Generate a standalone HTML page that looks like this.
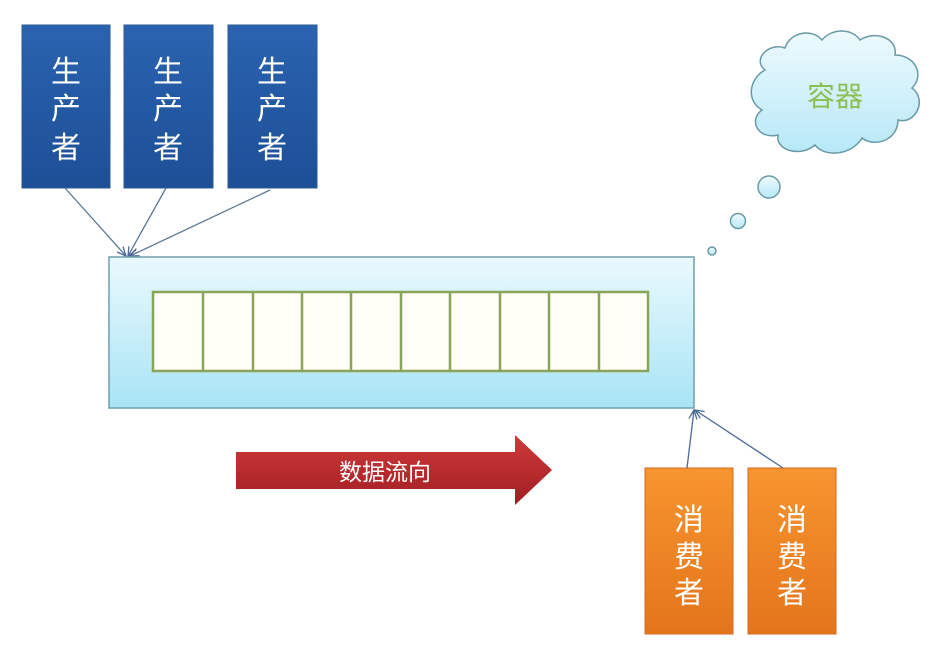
<!DOCTYPE html>
<html><head><meta charset="utf-8"><style>
body{margin:0;background:#fff;}
svg{display:block;}
text{font-family:"Liberation Sans","Noto Sans CJK SC",sans-serif;}
</style></head><body>
<svg width="942" height="664" viewBox="0 0 942 664" xmlns="http://www.w3.org/2000/svg">
<defs>
<linearGradient id="bl" x1="0" y1="0" x2="0" y2="1"><stop offset="0" stop-color="#2a63b0"/><stop offset="1" stop-color="#1d4f96"/></linearGradient>
<linearGradient id="or" x1="0" y1="0" x2="0" y2="1"><stop offset="0" stop-color="#f7952f"/><stop offset="1" stop-color="#e4741c"/></linearGradient>
<linearGradient id="cy" x1="0" y1="0" x2="0" y2="1"><stop offset="0" stop-color="#eaf9fd"/><stop offset="1" stop-color="#a8e4f5"/></linearGradient>
<linearGradient id="rd" x1="0" y1="0" x2="0" y2="1"><stop offset="0" stop-color="#cf3a3a"/><stop offset="1" stop-color="#a11e22"/></linearGradient>
<linearGradient id="cl" x1="0" y1="0" x2="0" y2="1"><stop offset="0" stop-color="#eefafe"/><stop offset="1" stop-color="#b7e8f7"/></linearGradient>
<marker id="ah" markerWidth="10" markerHeight="10" refX="9" refY="5" orient="auto" markerUnits="userSpaceOnUse"><path d="M0,1 L9,5 L0,9" fill="none" stroke="#4a6a9a" stroke-width="1.3"/></marker>
</defs>
<g fill="url(#bl)" stroke="#2b5a92" stroke-width="1">
<rect x="22" y="25" width="88" height="163"/>
<rect x="124" y="25" width="89" height="163"/>
<rect x="228" y="25" width="89" height="163"/>
</g>
<g fill="#fff" font-size="30" text-anchor="middle">
<text x="66" y="82">生</text><text x="66" y="119">产</text><text x="66" y="158">者</text>
<text x="168" y="82">生</text><text x="168" y="119">产</text><text x="168" y="158">者</text>
<text x="272" y="82">生</text><text x="272" y="119">产</text><text x="272" y="158">者</text>
</g>
<g stroke="#5a7896" stroke-width="1.3" fill="none" marker-end="url(#ah)">
<line x1="65" y1="188" x2="126" y2="256"/>
<line x1="166" y1="188" x2="128" y2="256"/>
<line x1="270" y1="190" x2="130" y2="256"/>
</g>
<rect x="109" y="257" width="585" height="151" fill="url(#cy)" stroke="#6f9fae" stroke-width="1.5"/>
<rect x="153" y="292" width="495" height="79" fill="#fffff8" stroke="#8aa55a" stroke-width="2.5"/>
<g stroke="#8aa55a" stroke-width="2.5">
<line x1="203" y1="292" x2="203" y2="371"/><line x1="253" y1="292" x2="253" y2="371"/>
<line x1="302" y1="292" x2="302" y2="371"/><line x1="351" y1="292" x2="351" y2="371"/>
<line x1="401" y1="292" x2="401" y2="371"/><line x1="450" y1="292" x2="450" y2="371"/>
<line x1="500" y1="292" x2="500" y2="371"/><line x1="549" y1="292" x2="549" y2="371"/>
<line x1="599" y1="292" x2="599" y2="371"/>
</g>
<polygon points="236,452 515,452 515,435 552,470 515,505 515,489 236,489" fill="url(#rd)"/>
<text x="385" y="480" fill="#fff" font-size="23" text-anchor="middle">数据流向</text>
<g fill="url(#or)" stroke="#d46a1c" stroke-width="1">
<rect x="645" y="468" width="88" height="166"/>
<rect x="748" y="468" width="88" height="166"/>
</g>
<g fill="#fff" font-size="30" text-anchor="middle">
<text x="689" y="530">消</text><text x="689" y="567">费</text><text x="689" y="603">者</text>
<text x="792" y="530">消</text><text x="792" y="567">费</text><text x="792" y="603">者</text>
</g>
<g stroke="#4a6a9a" stroke-width="1.3" fill="none" marker-end="url(#ah)">
<line x1="687" y1="468" x2="694" y2="410"/>
<line x1="783" y1="468" x2="695" y2="410"/>
</g>
<path d="M765,70 C752,60 768,42 785,48 C790,32 812,28 822,40 C832,28 852,28 860,40 C875,30 898,38 895,55 C915,55 925,75 912,88 C928,100 915,125 898,120 C898,140 875,148 862,138 C852,155 825,158 815,145 C800,158 775,150 778,135 C758,140 748,120 762,110 C745,100 750,78 765,70 Z" fill="url(#cl)" stroke="#6a9aa8" stroke-width="1.5"/>
<text x="835" y="106" fill="#8bbf52" font-size="28" text-anchor="middle">容器</text>
<circle cx="769" cy="187" r="11" fill="url(#cl)" stroke="#6a9aa8" stroke-width="1.5"/>
<circle cx="738" cy="221" r="7.5" fill="url(#cl)" stroke="#6a9aa8" stroke-width="1.5"/>
<circle cx="712" cy="251" r="4" fill="url(#cl)" stroke="#6a9aa8" stroke-width="1.5"/>
</svg>
</body></html>
